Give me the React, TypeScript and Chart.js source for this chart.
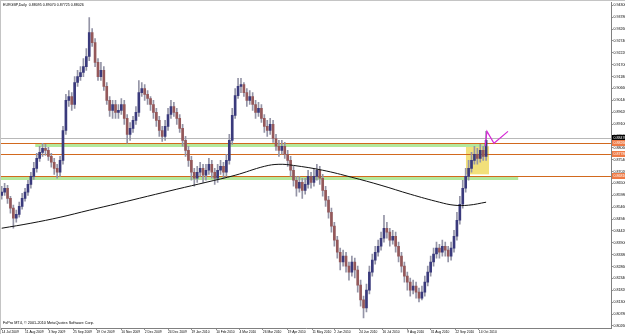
import React, { useEffect, useRef } from "react";
import { Chart, registerables } from "chart.js";
Chart.register(...registerables);

const TITLE = "EURGBP,Daily  0.88095 0.89070 0.87725 0.88026";
const COPYRIGHT = "FxPro MT4, \u00a9 2001-2010 MetaQuotes Software Corp.";
const FONT = "'Liberation Sans', Arial, sans-serif";

// one candle every BAR_STEP trading days
const BAR_STEP = 2;
const FIRST_OPEN = 0.8598;
const closes = [
  0.8612,0.8629,0.8585,0.8542,0.8498,0.8515,0.8550,0.8585,0.8612,0.8646,
  0.8681,0.8716,0.8760,0.8786,0.8804,0.8795,0.8769,0.8743,0.8716,0.8699,
  0.8751,0.8882,0.9014,0.9031,0.8996,0.9092,0.9118,0.9136,0.9162,0.9206,
  0.9311,0.9267,0.9180,0.9118,0.9145,0.9075,0.9014,0.8970,0.8996,0.8961,
  0.8970,0.8996,0.8935,0.8865,0.8891,0.8926,0.8961,0.9048,0.9066,0.9040,
  0.9022,0.8996,0.8961,0.8926,0.8882,0.8856,0.8900,0.8952,0.8987,0.8961,
  0.8935,0.8891,0.8839,0.8795,0.8751,0.8699,0.8673,0.8699,0.8716,0.8686,
  0.8708,0.8734,0.8699,0.8673,0.8708,0.8725,0.8699,0.8751,0.8839,0.8948,
  0.9035,0.9075,0.9083,0.9048,0.9014,0.9031,0.8996,0.8961,0.8979,0.8935,
  0.8900,0.8882,0.8909,0.8847,0.8813,0.8795,0.8813,0.8778,0.8751,0.8708,
  0.8664,0.8629,0.8655,0.8620,0.8646,0.8681,0.8655,0.8681,0.8708,0.8673,
  0.8620,0.8577,0.8524,0.8463,0.8402,0.8349,0.8306,0.8332,0.8288,0.8262,
  0.8306,0.8271,0.8205,0.8140,0.8105,0.8183,0.8262,0.8314,0.8349,0.8375,
  0.8410,0.8454,0.8437,0.8402,0.8419,0.8375,0.8332,0.8288,0.8244,0.8218,
  0.8183,0.8201,0.8174,0.8148,0.8174,0.8218,0.8262,0.8306,0.8341,0.8367,
  0.8349,0.8375,0.8358,0.8332,0.8367,0.8419,0.8489,0.8559,0.8629,0.8681,
  0.8716,0.8751,0.8778,0.8760,0.8795,0.8769,0.8839
];
const highs = [
  0.8638,0.8651,0.8642,0.8594,0.8555,0.8533,0.8568,0.8607,0.8629,0.8664,
  0.8699,0.8743,0.8782,0.8813,0.8826,0.8821,0.8808,0.8782,0.8760,0.8734,
  0.8769,0.8900,0.9040,0.9057,0.9048,0.9118,0.9145,0.9162,0.9197,0.9241,
  0.9376,0.9328,0.9284,0.9197,0.9180,0.9162,0.9092,0.9031,0.9014,0.9014,
  0.8996,0.9022,0.9014,0.8952,0.8917,0.8944,0.8987,0.9101,0.9092,0.9083,
  0.9057,0.9031,0.9014,0.8979,0.8944,0.8900,0.8926,0.8979,0.9014,0.9005,
  0.8979,0.8952,0.8909,0.8856,0.8813,0.8769,0.8716,0.8725,0.8743,0.8734,
  0.8734,0.8760,0.8751,0.8716,0.8734,0.8751,0.8743,0.8778,0.8865,0.8979,
  0.9066,0.9110,0.9110,0.9092,0.9066,0.9057,0.9048,0.9014,0.9005,0.8996,
  0.8952,0.8926,0.8935,0.8926,0.8865,0.8839,0.8839,0.8830,0.8795,0.8769,
  0.8725,0.8681,0.8681,0.8673,0.8673,0.8708,0.8699,0.8716,0.8734,0.8725,
  0.8690,0.8638,0.8594,0.8542,0.8480,0.8419,0.8367,0.8358,0.8349,0.8306,
  0.8332,0.8323,0.8288,0.8227,0.8157,0.8209,0.8288,0.8341,0.8375,0.8402,
  0.8437,0.8511,0.8480,0.8454,0.8445,0.8437,0.8393,0.8349,0.8306,0.8262,
  0.8236,0.8227,0.8218,0.8192,0.8201,0.8244,0.8288,0.8332,0.8367,0.8393,
  0.8384,0.8402,0.8393,0.8375,0.8393,0.8445,0.8524,0.8594,0.8664,0.8716,
  0.8751,0.8786,0.8813,0.8804,0.8821,0.8813,0.8878
];
const lows = [
  0.8581,0.8598,0.8563,0.8520,0.8454,0.8480,0.8502,0.8537,0.8572,0.8598,
  0.8629,0.8668,0.8699,0.8747,0.8769,0.8773,0.8751,0.8721,0.8690,0.8673,
  0.8681,0.8734,0.8865,0.8987,0.8970,0.8979,0.9075,0.9101,0.9118,0.9145,
  0.9188,0.9250,0.9162,0.9101,0.9101,0.9057,0.8996,0.8944,0.8935,0.8935,
  0.8935,0.8952,0.8909,0.8826,0.8839,0.8874,0.8909,0.8944,0.9031,0.9014,
  0.8996,0.8970,0.8935,0.8900,0.8856,0.8834,0.8839,0.8882,0.8935,0.8944,
  0.8909,0.8874,0.8813,0.8769,0.8725,0.8664,0.8638,0.8655,0.8681,0.8655,
  0.8664,0.8690,0.8673,0.8646,0.8655,0.8690,0.8673,0.8681,0.8734,0.8821,
  0.8935,0.9022,0.9048,0.9031,0.8987,0.8996,0.8970,0.8935,0.8944,0.8917,
  0.8874,0.8856,0.8865,0.8830,0.8795,0.8769,0.8778,0.8760,0.8725,0.8681,
  0.8638,0.8594,0.8612,0.8585,0.8603,0.8629,0.8629,0.8638,0.8664,0.8646,
  0.8594,0.8550,0.8498,0.8437,0.8375,0.8323,0.8271,0.8288,0.8262,0.8227,
  0.8244,0.8236,0.8174,0.8113,0.8061,0.8087,0.8166,0.8244,0.8297,0.8332,
  0.8358,0.8393,0.8410,0.8375,0.8384,0.8349,0.8306,0.8262,0.8218,0.8183,
  0.8157,0.8166,0.8148,0.8131,0.8140,0.8157,0.8201,0.8244,0.8288,0.8323,
  0.8323,0.8332,0.8332,0.8306,0.8314,0.8349,0.8402,0.8472,0.8542,0.8612,
  0.8664,0.8699,0.8734,0.8734,0.8743,0.8751,0.8751
];

// 200-day moving average (read at some bar positions)
const maIndex = [0,20,40,60,80,100,120,140,160,180,190,200,220,240,260,280,300,310,320,332];
const maValues = [0.8454,0.8476,0.8502,0.8533,0.8563,0.8594,0.8625,0.8655,0.8686,0.8725,0.8734,0.8729,0.8708,0.8677,0.8642,0.8603,0.8568,0.8555,0.8555,0.8568];

const dateTickIndex = [0,16,32,49,65,82,98,114,130,147,163,179,196,213,228,245,261,278,294,311,327];
const dateTickLabels = ["14 Jul 2009","11 Aug 2009","3 Sep 2009","25 Sep 2009","19 Oct 2009","10 Nov 2009","2 Dec 2009","24 Dec 2009","19 Jan 2010","10 Feb 2010","4 Mar 2010","26 Mar 2010","19 Apr 2010","11 May 2010","2 Jun 2010","24 Jun 2010","16 Jul 2010","9 Aug 2010","31 Aug 2010","22 Sep 2010","14 Oct 2010"];
const priceTicks = [0.9430,0.9378,0.9326,0.9274,0.9222,0.9170,0.9118,0.9066,0.9014,0.8962,0.8910,0.8858,0.8806,0.8754,0.8702,0.8650,0.8598,0.8546,0.8494,0.8442,0.8390,0.8338,0.8286,0.8234,0.8182,0.8130,0.8078,0.8026];

const X_MIN = -0.48, X_MAX = 417.6;
const Y_MIN = 0.80171, Y_MAX = 0.94418;

// drawn objects (in bar index / price units)
const bidPrice = 0.8847;
const levelPrices = [0.8826, 0.8778, 0.8681];
const bandPrices = [0.8826, 0.8681];
const bandFrom = [23, -1];
const bandTo = [332, 354];
const boxIdx = [318.2, 334];
const boxPrice = [0.8813, 0.8690];
const checkIdx = [331.3, 332.6, 337.4, 347];
const checkPrice = [0.8813, 0.8878, 0.8826, 0.8878];

const opens = closes.map((c, i) => (i === 0 ? FIRST_OPEN : closes[i - 1]));
const BULL = "#3a3a7c";
const BEAR = "#94585a";
const WICK = "#9494a6";

const overlay = {
  id: "mt4overlay",
  beforeDatasetsDraw(chart: any) {
    const { ctx, chartArea: a, scales } = chart;
    const x = scales.x, y = scales.y;
    ctx.save();
    ctx.beginPath();
    ctx.rect(a.left, a.top, a.right - a.left, a.bottom - a.top);
    ctx.clip();
    // yellow box
    const bx0 = x.getPixelForValue(boxIdx[0]);
    const bx1 = x.getPixelForValue(boxIdx[1]);
    const by0 = y.getPixelForValue(boxPrice[0]);
    const by1 = y.getPixelForValue(boxPrice[1]);
    ctx.fillStyle = "#f2e07a";
    ctx.fillRect(bx0, by0, bx1 - bx0, by1 - by0);
    // green bands
    bandPrices.forEach((p, k) => {
      const py = Math.round(y.getPixelForValue(p));
      const x0 = x.getPixelForValue(bandFrom[k]);
      const x1 = x.getPixelForValue(bandTo[k]);
      ctx.fillStyle = "#b4e89c";
      ctx.fillRect(x0, py, x1 - x0, 4);
    });
    // bid line
    const bp = Math.round(y.getPixelForValue(bidPrice)) + 0.5;
    ctx.strokeStyle = "#b8b8b8";
    ctx.lineWidth = 1;
    ctx.beginPath();
    ctx.moveTo(a.left, bp);
    ctx.lineTo(a.right, bp);
    ctx.stroke();
    // level lines
    ctx.strokeStyle = "#d2691e";
    levelPrices.forEach((p) => {
      const py = Math.round(y.getPixelForValue(p)) + 0.5;
      ctx.beginPath();
      ctx.moveTo(a.left, py);
      ctx.lineTo(a.right, py);
      ctx.stroke();
    });
    ctx.restore();
  },
  afterDatasetsDraw(chart: any) {
    const { ctx, scales } = chart;
    const x = scales.x, y = scales.y;
    ctx.save();
    ctx.strokeStyle = "#d62ad6";
    ctx.lineWidth = 1.2;
    ctx.beginPath();
    checkIdx.forEach((v, k) => {
      const px = x.getPixelForValue(v);
      const py = y.getPixelForValue(checkPrice[k]);
      if (k === 0) ctx.moveTo(px, py);
      else ctx.lineTo(px, py);
    });
    ctx.stroke();
    ctx.restore();
  },
  afterDraw(chart: any) {
    const { ctx, chartArea: a, scales } = chart;
    const y = scales.y;
    ctx.save();
    // frame
    ctx.fillStyle = "#c4c4c4";
    ctx.fillRect(0, 0, chart.width, 1);
    ctx.fillRect(0, 0, 1, chart.height);
    // texts
    ctx.fillStyle = "#000";
    ctx.textBaseline = "middle";
    ctx.textAlign = "left";
    ctx.font = `3.6px ${FONT}`;
    ctx.fillText(TITLE, 3, 4.5);
    ctx.font = `3.8px ${FONT}`;
    ctx.fillText(COPYRIGHT, 3, 323);
    // price tags
    const tags = [
      { p: bidPrice, bg: "#000000", fg: "#ffffff" },
      ...levelPrices.map((p) => ({ p, bg: "#ef7a45", fg: "#ffffff" })),
    ];
    ctx.font = `3.6px ${FONT}`;
    tags.forEach((t) => {
      const py = Math.round(y.getPixelForValue(t.p));
      ctx.fillStyle = t.bg;
      ctx.fillRect(a.right + 1, py - 3, chart.width - a.right - 1, 6);
      ctx.fillStyle = t.fg;
      ctx.fillText(t.p.toFixed(5), a.right + 2.5, py + 0.3);
    });
    ctx.restore();
  },
};

export default function App() {
  const ref = useRef<HTMLCanvasElement | null>(null);
  useEffect(() => {
    document.body.style.margin = "0";
    const canvas = ref.current;
    if (!canvas) return;
    const bodyColors = closes.map((c, i) => (c >= opens[i] ? BULL : BEAR));
    const chart = new Chart(canvas, {
      type: "bar",
      data: {
        datasets: [
          {
            type: "line",
            data: maIndex.map((v, k) => ({ x: v, y: maValues[k] })),
            borderColor: "#111111",
            borderWidth: 1,
            pointRadius: 0,
            tension: 0.4,
            order: 0,
          } as any,
          {
            type: "bar",
            data: closes.map((c, i) => ({ x: i * BAR_STEP, y: [opens[i], c] })),
            backgroundColor: bodyColors,
            barThickness: 2,
            grouped: false,
            minBarLength: 1,
            order: 1,
          } as any,
          {
            type: "bar",
            data: closes.map((c, i) => ({ x: i * BAR_STEP, y: [lows[i], highs[i]] })),
            backgroundColor: WICK,
            barThickness: 1,
            grouped: false,
            order: 2,
          } as any,
        ],
      },
      options: {
        animation: false,
        responsive: false,
        devicePixelRatio: 1,
        layout: { padding: { left: 1, top: 2, right: 0, bottom: 0 } },
        plugins: { legend: { display: false }, tooltip: { enabled: false } },
        scales: {
          x: {
            type: "linear",
            min: X_MIN,
            max: X_MAX,
            offset: false,
            grid: { drawOnChartArea: false, offset: false, tickLength: 2, color: "#909090" },
            border: { color: "#808080" },
            ticks: {
              font: { size: 3.3, family: FONT },
              color: "#000",
              padding: 0,
              maxRotation: 0,
              autoSkip: false,
              align: "start",
              callback: (v: any) => {
                const k = dateTickIndex.indexOf(Number(v));
                return k >= 0 ? dateTickLabels[k] : "";
              },
            },
            afterBuildTicks: (s: any) => {
              s.ticks = dateTickIndex.map((v) => ({ value: v }));
            },
            afterFit: (s: any) => {
              s.height = 6;
            },
          },
          y: {
            type: "linear",
            position: "right",
            min: Y_MIN,
            max: Y_MAX,
            grid: { drawOnChartArea: false, tickLength: 2, color: "#909090" },
            border: { color: "#808080" },
            ticks: {
              font: { size: 3.6, family: FONT },
              color: "#000",
              padding: 0.5,
              autoSkip: false,
              callback: (v: any) => Number(v).toFixed(5),
            },
            afterBuildTicks: (s: any) => {
              s.ticks = priceTicks.map((v) => ({ value: v }));
            },
            afterFit: (s: any) => {
              s.width = 14;
            },
          },
        },
      } as any,
      plugins: [overlay],
    });
    return () => chart.destroy();
  }, []);
  return <canvas ref={ref} width={625} height={334} style={{ display: "block" }} />;
}
